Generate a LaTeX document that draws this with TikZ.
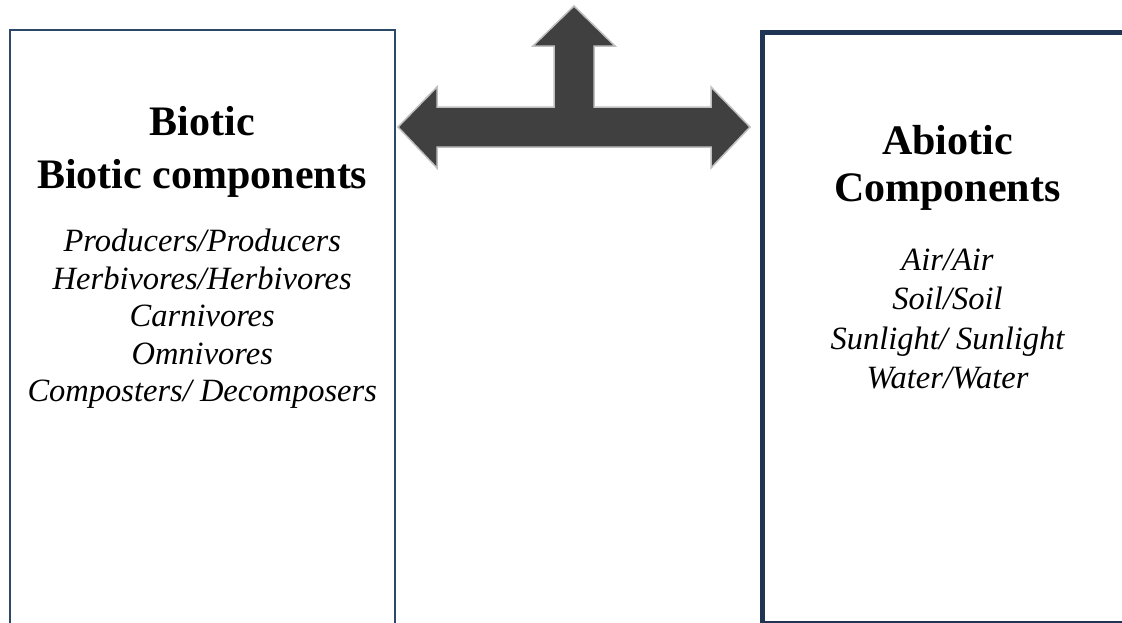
\documentclass[tikz,border=0pt]{standalone}
\usepackage{fontspec}
\setmainfont{Liberation Serif}
\usetikzlibrary{positioning}

\definecolor{leftframe}{HTML}{2C4968}
\definecolor{rightframe}{HTML}{1F3553}
\definecolor{arrowfill}{HTML}{404040}
\definecolor{arrowedge}{HTML}{BFBFBF}

\begin{document}
\begin{tikzpicture}[x=1pt, y=-1pt,
  panel/.style = {shape=rectangle, anchor=north west, inner sep=0pt},
  head/.style  = {align=center, inner sep=0pt, font=\bfseries\fontsize{42}{53}\selectfont},
  items/.style = {align=center, inner sep=0pt, font=\itshape\fontsize{32.5}{37.5}\selectfont}]
  \useasboundingbox (0,0) rectangle (1122,622);
  \clip (0,0) rectangle (1122,622);

  % the two boxes, both run past the page
  \node[panel, draw=leftframe, line width=2pt,
        minimum width=385.5pt, minimum height=640pt] (biotic) at (8.5,28.5) {};
  \node[panel, draw=rightframe, line width=5pt,
        minimum width=371pt, minimum height=591pt] (abiotic) at (759.5,29.5) {};

  \node[head, below=77.5pt of biotic.north] (bioticHead) {Biotic\\Biotic components};
  \node[items, below=200.5pt of biotic.north] (bioticList)
    {Producers/Producers\\Herbivores/Herbivores\\Carnivores\\Omnivores\\Composters/ Decomposers};

  \node[head, font=\bfseries\fontsize{42}{47}\selectfont, below=96pt of abiotic.north] (abioticHead)
    {Abiotic\\Components};
  \node[items, font=\itshape\fontsize{32.5}{39.5}\selectfont, below=219pt of abiotic.north] (abioticList)
    {Air/Air\\Soil/Soil\\Sunlight/ Sunlight\\Water/Water};

  % three-way arrow between the boxes
  \coordinate (hub) at (574,127);
  \draw[fill=arrowfill, draw=arrowedge, line width=1.5pt, line join=miter]
    ([xshift=-176pt]hub) -- ++(39,-40) -- ++(0,20) -- ([xshift=-20pt,yshift=20pt]hub)
    -- ([xshift=-20pt,yshift=81pt]hub) -- ++(-21,0) -- ([yshift=121pt]hub)
    -- ([xshift=41pt,yshift=81pt]hub) -- ++(-21,0) -- ([xshift=20pt,yshift=20pt]hub)
    -- ([xshift=137pt,yshift=20pt]hub) -- ++(0,-20) -- ([xshift=176pt]hub)
    -- ++(-39,41) -- ++(0,-21) -- ([xshift=-137pt,yshift=-20pt]hub)
    -- ++(0,21) -- cycle;
\end{tikzpicture}
\end{document}
